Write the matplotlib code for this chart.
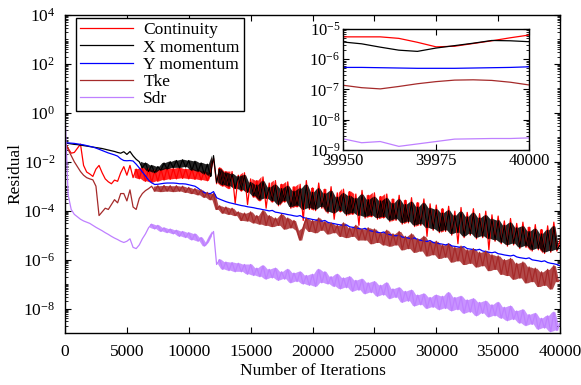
import numpy as np
import matplotlib
matplotlib.use('Agg')
import matplotlib.pyplot as plt
from matplotlib.ticker import FixedLocator, LogLocator, NullFormatter, ScalarFormatter

plt.rcParams['font.family'] = 'serif'
plt.rcParams['font.serif'] = ['Liberation Serif', 'DejaVu Serif']
plt.rcParams['mathtext.fontset'] = 'stix'
plt.rcParams['xtick.direction'] = 'in'
plt.rcParams['ytick.direction'] = 'in'
plt.rcParams['xtick.top'] = True
plt.rcParams['ytick.right'] = True
plt.rcParams['axes.linewidth'] = 1.0

# residual history, log10 values sampled every 250 iterations (0 .. 40000)
iteraciones = np.arange(0, 40001, 250)

continuity_log = [
    -1.22, -1.45, -1.65, -1.62, -1.45, -1.28, -2.15, -2.42, -2.5, -2.6, -2.3, -2.15, -2.45, -2.7, -2.82, -2.9, -2.75, -2.8, -2.45, -2.2,
    -2.55, -2.15, -2.65, -2.3, -2.7, -2.25, -2.8, -2.3, -2.85, -2.35, -2.8, -2.3, -2.75, -2.25, -2.72, -2.28, -2.7, -2.25, -2.68, -2.3,
    -2.7, -2.3, -2.72, -2.35, -2.75, -2.4, -2.78, -2.45, -1.85, -2.9, -2.25, -3.0, -2.4, -3.1, -2.4, -3.7, -2.55, -3.2, -2.45, -3.75,
    -2.7, -3.45, -2.77, -3.6, -2.62, -3.9, -2.87, -3.65, -2.77, -3.8, -2.92, -3.65, -2.82, -3.9, -3.02, -3.85, -2.92, -4.4, -2.77, -3.95,
    -3.07, -4.0, -2.87, -3.9, -3.12, -4.1, -3.02, -4.35, -3.27, -4.05, -3.12, -4.2, -3.22, -4.15, -3.32, -4.6, -3.17, -4.3, -3.37, -4.25,
    -3.27, -4.35, -3.42, -4.3, -3.32, -4.45, -3.52, -4.4, -3.37, -4.55, -3.57, -4.5, -3.47, -4.65, -3.67, -4.6, -3.52, -5.05, -3.72, -4.8,
    -3.77, -4.9, -3.92, -4.85, -3.82, -5.0, -4.02, -5.35, -3.87, -5.1, -4.07, -5.0, -3.92, -5.15, -4.12, -5.1, -4.02, -5.6, -4.17, -5.25,
    -4.22, -5.35, -4.42, -5.45, -4.32, -5.4, -4.52, -5.55, -4.47, -5.5, -4.67, -5.65, -4.57, -5.6, -4.77, -5.75, -4.62, -5.7, -4.47, -5.65,
    -5.2,
]

x_momentum_log = [
    -1.22, -1.25, -1.27, -1.29, -1.3, -1.32, -1.34, -1.36, -1.38, -1.4, -1.42, -1.44, -1.46, -1.49, -1.52, -1.55, -1.58, -1.62, -1.65, -1.59,
    -1.7, -1.58, -1.76, -1.9, -2.0, -2.25, -2.05, -2.4, -2.15, -2.45, -2.2, -2.35, -2.05, -2.3, -2.0, -2.25, -1.95, -2.25, -1.92, -2.22,
    -1.95, -2.35, -1.98, -2.4, -2.05, -2.5, -2.1, -2.6, -1.75, -2.85, -2.3, -2.95, -2.45, -3.0, -2.5, -3.1, -2.6, -3.15, -2.55, -3.25,
    -2.85, -3.4, -2.95, -3.55, -2.8, -3.5, -3.05, -3.6, -2.95, -3.75, -3.1, -3.6, -3.0, -3.85, -3.2, -3.8, -3.1, -3.95, -2.95, -3.9,
    -3.25, -3.95, -3.1, -3.85, -3.3, -4.05, -3.2, -4.1, -3.45, -4.0, -3.3, -4.15, -3.4, -4.1, -3.5, -4.2, -3.35, -4.25, -3.55, -4.2,
    -3.45, -4.3, -3.6, -4.25, -3.5, -4.4, -3.7, -4.35, -3.55, -4.5, -3.75, -4.45, -3.65, -4.6, -3.85, -4.55, -3.7, -4.7, -3.9, -4.75,
    -3.95, -4.85, -4.1, -4.8, -4.0, -4.95, -4.2, -4.9, -4.05, -5.05, -4.25, -4.95, -4.1, -5.1, -4.3, -5.05, -4.2, -5.15, -4.35, -5.2,
    -4.4, -5.3, -4.6, -5.4, -4.5, -5.35, -4.7, -5.5, -4.65, -5.45, -4.85, -5.6, -4.75, -5.55, -4.95, -5.7, -4.8, -5.65, -4.65, -5.6,
    -5.42,
]

y_momentum_log = [
    -1.22, -1.23, -1.24, -1.25, -1.27, -1.29, -1.31, -1.34, -1.37, -1.4, -1.44, -1.49, -1.54, -1.59, -1.64, -1.68, -1.72, -1.77, -1.88, -1.95,
    -1.96, -1.95, -1.97, -2.1, -2.25, -2.42, -2.58, -2.75, -2.86, -2.93, -2.92, -2.9, -2.88, -2.87, -2.87, -2.87, -2.88, -2.9, -2.9, -2.91,
    -2.94, -2.97, -3.0, -3.08, -3.18, -3.26, -3.3, -3.3, -3.22, -3.47, -3.53, -3.58, -3.63, -3.67, -3.7, -3.73, -3.76, -3.79, -3.81, -3.84,
    -3.86, -3.88, -3.91, -3.93, -3.96, -3.98, -4.01, -3.99, -4.06, -4.08, -4.11, -4.13, -4.16, -4.18, -4.21, -4.23, -4.2, -4.28, -4.31, -4.33,
    -4.36, -4.38, -4.41, -4.43, -4.4, -4.48, -4.51, -4.53, -4.56, -4.58, -4.61, -4.58, -4.66, -4.68, -4.71, -4.73, -4.76, -4.72, -4.81, -4.83,
    -4.86, -4.88, -4.91, -4.87, -4.96, -4.98, -5.01, -5.03, -5.0, -5.08, -5.1, -5.12, -5.15, -5.11, -5.19, -5.21, -5.24, -5.26, -5.22, -5.3,
    -5.33, -5.35, -5.37, -5.4, -5.36, -5.44, -5.46, -5.48, -5.5, -5.47, -5.55, -5.57, -5.59, -5.61, -5.58, -5.65, -5.67, -5.7, -5.72, -5.69,
    -5.76, -5.78, -5.81, -5.83, -5.85, -5.82, -5.89, -5.92, -5.94, -5.96, -5.93, -6.01, -6.03, -6.05, -6.08, -6.05, -6.12, -6.15, -6.17, -6.2,
    -6.25,
]

tke_log = [
    -1.22, -1.5, -1.75, -2.0, -2.2, -2.4, -2.55, -2.65, -2.7, -2.74, -3.0, -4.2, -4.05, -3.9, -3.95, -3.75, -3.55, -3.68, -3.3, -3.3,
    -3.6, -3.15, -3.85, -3.95, -3.5, -3.3, -3.18, -3.1, -3.0, -3.2, -2.98, -3.22, -2.97, -3.2, -2.98, -3.22, -2.98, -3.2, -3.0, -3.25,
    -3.05, -3.3, -3.1, -3.35, -3.15, -3.45, -3.25, -3.55, -3.3, -3.95, -3.8, -4.1, -3.85, -4.15, -3.9, -4.2, -4.05, -4.4, -4.1, -4.42,
    -4.05, -4.5, -4.2, -4.55, -4.0, -4.6, -4.2, -4.65, -4.3, -4.6, -4.15, -4.75, -4.3, -4.7, -4.4, -4.8, -5.2, -4.7, -4.3, -4.85,
    -4.4, -4.9, -4.3, -4.8, -4.45, -4.95, -4.5, -4.9, -4.6, -5.05, -4.5, -5.1, -4.7, -5.05, -4.6, -5.2, -4.75, -5.2, -4.7, -5.35,
    -4.75, -5.3, -4.9, -5.4, -4.8, -5.45, -4.95, -5.4, -4.85, -5.6, -5.05, -5.55, -4.95, -5.7, -5.15, -5.65, -5.05, -5.85, -5.25, -5.8,
    -5.25, -5.95, -5.4, -5.9, -5.35, -6.1, -5.5, -6.05, -5.45, -6.2, -5.6, -6.15, -5.55, -6.3, -5.7, -6.25, -5.65, -6.45, -5.8, -6.4,
    -5.85, -6.6, -6.0, -6.65, -5.95, -6.8, -6.15, -6.75, -6.1, -6.95, -6.3, -6.9, -6.35, -7.1, -6.5, -7.05, -6.4, -7.2, -6.25, -6.9,
    -6.85,
]

sdr_log = [
    0.0, -3.35, -3.95, -4.15, -4.25, -4.35, -4.42, -4.47, -4.52, -4.6, -4.68, -4.75, -4.82, -4.9, -4.97, -5.05, -5.12, -5.18, -5.25, -5.3,
    -5.25, -5.15, -5.5, -5.55, -5.4, -5.15, -4.95, -4.7, -4.55, -4.75, -4.6, -4.85, -4.7, -4.9, -4.75, -4.95, -4.8, -5.05, -4.85, -5.1,
    -4.9, -5.2, -4.95, -5.25, -5.1, -5.45, -5.3, -5.05, -4.85, -6.2, -6.0, -6.4, -6.1, -6.45, -6.12, -6.5, -6.15, -6.5, -6.2, -6.6,
    -6.2, -6.65, -6.35, -6.7, -6.25, -6.8, -6.4, -6.75, -6.35, -6.85, -6.5, -6.8, -6.4, -6.95, -6.55, -6.9, -6.5, -7.0, -6.65, -7.05,
    -6.6, -7.1, -6.4, -6.95, -6.5, -7.0, -6.7, -7.1, -6.6, -7.2, -6.75, -7.15, -6.7, -7.3, -6.85, -7.25, -6.8, -7.4, -6.95, -7.35,
    -6.9, -7.5, -7.05, -7.45, -6.95, -7.6, -7.2, -7.55, -7.15, -7.75, -7.3, -7.7, -7.25, -7.9, -7.45, -7.85, -7.4, -8.0, -7.55, -7.95,
    -7.45, -8.05, -7.5, -8.0, -7.35, -8.1, -7.55, -8.05, -7.5, -8.2, -7.65, -8.15, -7.6, -8.3, -7.75, -8.2, -7.7, -8.35, -7.85, -8.3,
    -7.75, -8.4, -7.95, -8.5, -7.9, -8.45, -8.1, -8.6, -8.05, -8.7, -8.25, -8.65, -8.2, -8.85, -8.4, -8.8, -8.3, -8.95, -8.15, -8.9,
    -8.6,
]

# last 50 iterations, written every 5 iterations
iteraciones_zoom = [39950, 39955, 39960, 39965, 39970, 39975, 39980, 39985, 39990, 39995, 40000]
continuity_zoom = [-5.26, -5.26, -5.26, -5.31, -5.44, -5.59, -5.57, -5.48, -5.39, -5.29, -5.2]
x_momentum_zoom = [-5.43, -5.49, -5.6, -5.7, -5.74, -5.63, -5.55, -5.47, -5.38, -5.39, -5.42]
y_momentum_zoom = [-6.27, -6.27, -6.28, -6.29, -6.3, -6.3, -6.3, -6.29, -6.28, -6.27, -6.25]
tke_zoom = [-6.86, -6.94, -6.98, -6.9, -6.81, -6.74, -6.69, -6.68, -6.7, -6.76, -6.85]
sdr_zoom = [-8.63, -8.76, -8.72, -8.88, -8.8, -8.72, -8.64, -8.63, -8.62, -8.62, -8.6]

nombres = ['Continuity', 'X momentum', 'Y momentum', 'Tke', 'Sdr']
colores = ['#ff0000', '#000000', '#0000ff', '#a52a2a', '#bf80ff']
series = [continuity_log, x_momentum_log, y_momentum_log, tke_log, sdr_log]
series_zoom = [continuity_zoom, x_momentum_zoom, y_momentum_zoom, tke_zoom, sdr_zoom]

# iteration from which each residual oscillates (drawn as a filled band)
inicio_ruido = {'Continuity': 5500, 'X momentum': 6000, 'Tke': 7000, 'Sdr': 6750}


def ejes_log(ax, mayores):
    ax.yaxis.set_major_locator(FixedLocator(mayores))
    ax.yaxis.set_minor_locator(LogLocator(base=10, subs=np.arange(1, 10), numticks=100))
    ax.yaxis.set_minor_formatter(NullFormatter())
    ax.tick_params(which='major', length=4, width=0.8)
    ax.tick_params(which='minor', length=2, width=0.6)


fig = plt.figure(figsize=(5.81, 3.85), dpi=100)
ax = fig.add_axes([0.1119, 0.1351, 0.852, 0.826])

for nombre, color, valores in zip(nombres, colores, series):
    v = np.array(valores)
    if nombre in inicio_ruido:
        # banda entre picos y valles consecutivos
        medio = (iteraciones[:-1] + iteraciones[1:]) / 2
        alto = np.maximum(v[:-1], v[1:])
        bajo = np.minimum(v[:-1], v[1:])
        mascara = (medio >= inicio_ruido[nombre]) & (np.abs(np.diff(v)) <= 1.0)
        ax.fill_between(medio, 10.0 ** bajo, 10.0 ** alto, where=mascara,
                        color=color, alpha=0.85, linewidth=0)
    ax.plot(iteraciones, 10.0 ** v, color=color, linewidth=0.9, label=nombre)

ax.set_yscale('log')
ax.set_xlim(0, 40000)
ax.set_ylim(1e-9, 1e4)
ejes_log(ax, 10.0 ** np.arange(-8, 5, 2))
ax.set_xticks(np.arange(0, 40001, 5000))
ax.tick_params(labelsize=12.5)
ax.tick_params(axis='x', pad=8)
ax.tick_params(axis='y', pad=7)
ax.set_xlabel('Number of Iterations', fontsize=12.5, labelpad=2)
ax.set_ylabel('Residual', fontsize=12.5, labelpad=0)

leyenda = ax.legend(loc='upper left', bbox_to_anchor=(0.022, 0.991), borderaxespad=0,
                    fontsize=12.6, fancybox=False, framealpha=1, edgecolor='black',
                    borderpad=0.25, labelspacing=0.05, handlelength=3.0, handletextpad=0.6)
leyenda.get_frame().set_linewidth(1.0)

# detalle de las ultimas iteraciones
axin = fig.add_axes([0.5904, 0.6104, 0.3201, 0.3143])
for color, valores in zip(colores, series_zoom):
    axin.plot(iteraciones_zoom, 10.0 ** np.array(valores), color=color, linewidth=0.9)
axin.set_yscale('log')
axin.set_xlim(39950, 40000)
axin.set_ylim(1e-9, 1e-5)
ejes_log(axin, 10.0 ** np.arange(-9, -4, 1))
axin.set_xticks([39950, 39975, 40000])
axin.xaxis.set_major_formatter(ScalarFormatter(useOffset=False))
axin.tick_params(labelsize=12, pad=2)

fig.savefig('out.png', dpi=100)
